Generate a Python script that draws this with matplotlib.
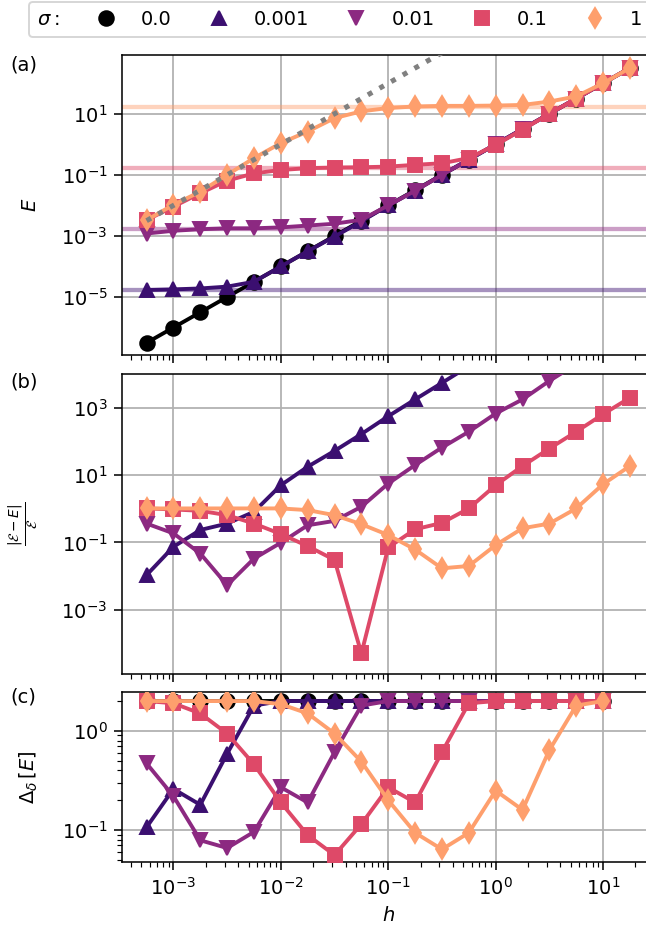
import numpy as np
import matplotlib
matplotlib.use("Agg")
import matplotlib.pyplot as plt
from matplotlib.lines import Line2D
from matplotlib.ticker import NullLocator, NullFormatter, LogLocator

# ---------------- data (log10 values) ----------------
h_exp = [-3.25, -3.0, -2.75, -2.5, -2.25, -2.0, -1.75, -1.5, -1.25, -1.0,
         -0.75, -0.5, -0.25, 0.0, 0.25, 0.5, 0.75, 1.0, 1.25]
sigmas = ["0.0", "0.001", "0.01", "0.1", "1"]
colors = ["black", "#3b0f70", "#8c2981", "#de4968", "#fe9f6d"]
markers = ["o", "^", "v", "s", "d"]

# panel (a): E
E_s0 = [-6.5, -6.0, -5.5, -5.0, -4.5, -4.0, -3.5, -3.0, -2.5, -2.0, -1.5, -1.0,
        -0.5, 0.0, 0.5, 1.0, 1.5, 2.0, 2.5]
E_s1 = [-4.77, -4.75, -4.72, -4.66, -4.5, -4.0, -3.5, -3.02, -2.52, -2.0, -1.52,
        -1.0, -0.5, 0.0, 0.5, 1.0, 1.5, 2.0, 2.5]
E_s2 = [-2.92, -2.83, -2.78, -2.75, -2.75, -2.72, -2.66, -2.6, -2.47, -2.0, -1.52,
        -1.0, -0.5, 0.0, 0.5, 1.0, 1.5, 2.0, 2.5]
E_s3 = [-2.48, -2.04, -1.6, -1.19, -0.95, -0.84, -0.78, -0.76, -0.75, -0.73, -0.67,
        -0.62, -0.45, -0.02, 0.48, 1.0, 1.5, 2.0, 2.5]
E_s4 = [-2.48, -1.98, -1.55, -1.0, -0.45, 0.04, 0.42, 0.86, 1.08, 1.19, 1.24, 1.26,
        1.26, 1.27, 1.29, 1.4, 1.57, 2.0, 2.5]
E_ref = [1.7e-5, 1.7e-3, 1.7e-1, 1.7e1]          # horizontal levels
guide_h = [10 ** -3.25, 10 ** 1.25]               # dotted guide line
guide_E = [10 ** -2.5, 10 ** 6.5]

# panel (b): relative error
R_s1 = [-1.97, -1.13, -0.63, -0.44, -0.09, 0.70, 1.25, 1.72, 2.22, 2.75, 3.25, 3.74,
        4.24, 4.74, 5.24, 5.74, 6.24, 6.74, 7.24]
R_s2 = [-0.44, -0.73, -1.33, -2.27, -1.48, -1.01, -0.49, -0.36, 0.06, 0.75, 1.30,
        1.82, 2.29, 2.83, 3.25, 3.80, 4.3, 4.8, 5.3]
R_s3 = [0.01, -0.02, -0.06, -0.19, -0.44, -0.75, -1.11, -1.52, -4.30, -1.15, -0.61,
        -0.42, 0.01, 0.70, 1.27, 1.79, 2.29, 2.81, 3.30]
R_s4 = [0.01, 0.01, 0.01, 0.01, 0.01, 0.01, -0.04, -0.19, -0.46, -0.78, -1.21, -1.77,
        -1.70, -1.08, -0.58, -0.44, 0.01, 0.73, 1.27]

# panel (c): Delta_delta[E] (first 18 h values)
D_s0 = [2.0] * 18
D_s1 = [0.107, 0.26, 0.18, 0.59, 1.8, 2.0, 2.0, 2.0, 2.0, 2.0, 2.0, 2.0, 2.0, 2.0,
        2.0, 2.0, 2.0, 2.0]
D_s2 = [0.47, 0.22, 0.079, 0.066, 0.096, 0.27, 0.19, 0.61, 1.8, 2.0, 2.0, 2.0, 2.0,
        2.0, 2.0, 2.0, 2.0, 2.0]
D_s3 = [2.0, 1.9, 1.5, 0.94, 0.46, 0.19, 0.089, 0.056, 0.115, 0.27, 0.19, 0.61, 1.9,
        2.0, 2.0, 2.0, 2.0, 2.0]
D_s4 = [2.0, 2.0, 2.0, 2.0, 2.0, 1.86, 1.5, 0.94, 0.49, 0.20, 0.094, 0.064, 0.094,
        0.25, 0.16, 0.64, 1.8, 2.0]

# ---------------- figure ----------------
DPI = 140
plt.rcParams["xtick.major.size"] = 4.2
plt.rcParams["ytick.major.size"] = 4.2
plt.rcParams["xtick.minor.size"] = 2.4
plt.rcParams["ytick.minor.size"] = 2.4
fig = plt.figure(figsize=(646 / DPI, 938 / DPI), dpi=DPI)

h = 10 ** np.array(h_exp)
L, W = 0.1895, 0.823
axA = fig.add_axes([L, 0.6215, W, 0.320])
axB = fig.add_axes([L, 0.2811, W, 0.320], sharex=axA)
axC = fig.add_axes([L, 0.0813, W, 0.181], sharex=axA)

lw, ms = 2.0, 7.5

# (a)
for lev, c in zip(E_ref, colors[1:]):
    axA.axhline(lev, color=c, alpha=0.45, lw=2.2, zorder=1.5)
for Ev, c, m in zip([E_s0, E_s1, E_s2, E_s3, E_s4], colors, markers):
    axA.plot(h, 10 ** np.array(Ev), color=c, marker=m, lw=lw, ms=ms, zorder=3)
axA.plot(guide_h, guide_E, color="gray", ls=":", lw=2.6, zorder=4)
axA.set_yscale("log")
axA.set_ylim(10 ** -6.9, 10 ** 2.93)
axA.set_yticks([1e-5, 1e-3, 1e-1, 1e1])
axA.yaxis.set_minor_locator(NullLocator())
axA.set_ylabel("$E$")

# (b)
for Rv, c, m in zip([R_s1, R_s2, R_s3, R_s4], colors[1:], markers[1:]):
    axB.plot(h, 10 ** np.array(Rv), color=c, marker=m, lw=lw, ms=ms, zorder=3)
axB.set_yscale("log")
axB.set_ylim(10 ** -4.92, 1e4)
axB.set_yticks([1e-3, 1e-1, 1e1, 1e3])
axB.yaxis.set_minor_locator(NullLocator())
axB.set_ylabel(r"$\frac{|\mathcal{E}-E|}{\mathcal{E}}$")

# (c)
for Dv, c, m in zip([D_s0, D_s1, D_s2, D_s3, D_s4], colors, markers):
    axC.plot(h[:18], Dv, color=c, marker=m, lw=lw, ms=ms, zorder=3)
axC.set_yscale("log")
axC.set_ylim(0.048, 2.47)
axC.yaxis.set_minor_formatter(NullFormatter())
axC.set_ylabel(r"$\Delta_\delta\,[E]$")
axC.set_xlabel("$h$")

axA.set_xscale("log")
axA.set_xlim(10 ** -3.475, 10 ** 1.475)
axA.xaxis.set_major_locator(LogLocator(base=10, numticks=20))
axA.xaxis.set_minor_locator(LogLocator(base=10, subs=np.arange(2, 10), numticks=20))
axA.xaxis.set_minor_formatter(NullFormatter())

for ax in (axA, axB, axC):
    ax.grid(True, which="major", color="#b0b0b0", lw=0.9)
    ax.set_axisbelow(True)
    ax.yaxis.set_label_coords(-0.155, 0.5)
for ax in (axA, axB):
    ax.tick_params(axis="x", labelbottom=False)

# panel labels
fig.text(10 / 646, 1 - 65 / 938, "(a)", va="center", ha="left")
fig.text(10 / 646, 1 - 382 / 938, "(b)", va="center", ha="left")
fig.text(10 / 646, 1 - 697 / 938, "(c)", va="center", ha="left")

# legend: label first, then marker
handles = [Line2D([], [], color=c, marker=m, ls="none", ms=ms)
           for c, m in zip(colors, markers)]
handles.append(Line2D([], [], ls="none"))
labels = [r"$\sigma:$"] + sigmas
fig.legend(handles, labels, loc="upper left", bbox_to_anchor=(29 / 646, 1 - 2 / 938),
           ncol=6, markerfirst=False, handlelength=2.0, handletextpad=1.42,
           columnspacing=0.8, borderpad=0.4, borderaxespad=0.0)

fig.savefig("out.png", dpi=DPI)
